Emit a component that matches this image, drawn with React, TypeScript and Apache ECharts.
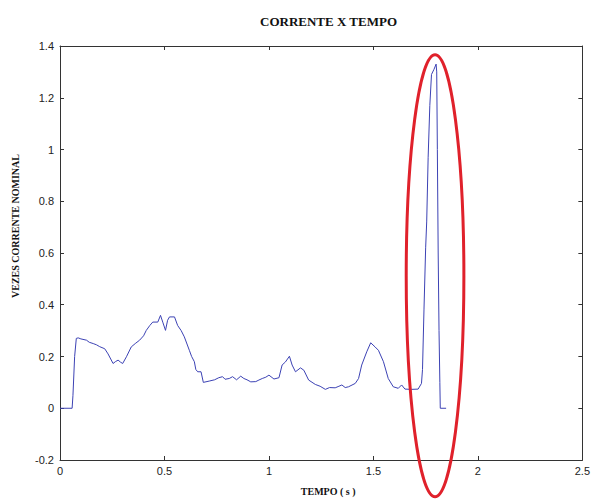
import React, { useEffect, useRef } from "react";
import * as echarts from "echarts";

const titleText = "CORRENTE X TEMPO";
const xName = "TEMPO ( s )";
const yName = "VEZES CORRENTE NOMINAL";

const time = [
  0, 0.058, 0.062, 0.07, 0.078, 0.087, 0.1, 0.127, 0.14, 0.159, 0.175, 0.19, 0.214, 0.23, 0.254, 0.265,
  0.278, 0.29, 0.3, 0.318, 0.341, 0.36, 0.381, 0.4, 0.413, 0.43, 0.444, 0.468, 0.481, 0.493, 0.505, 0.515,
  0.524, 0.548, 0.563, 0.58, 0.595, 0.619, 0.63, 0.643, 0.65, 0.659, 0.675, 0.686, 0.714, 0.74, 0.76, 0.778,
  0.79, 0.81, 0.826, 0.845, 0.865, 0.88, 0.895, 0.913, 0.937, 0.952, 0.968, 0.985, 1.0, 1.024, 1.048, 1.063,
  1.079, 1.098, 1.111, 1.127, 1.151, 1.167, 1.19, 1.222, 1.245, 1.27, 1.29, 1.317, 1.335, 1.349, 1.365, 1.381,
  1.413, 1.429, 1.444, 1.468, 1.487, 1.508, 1.524, 1.548, 1.571, 1.595, 1.619, 1.635, 1.651, 1.683, 1.714, 1.73,
  1.735, 1.742, 1.75, 1.755, 1.762, 1.77, 1.778, 1.79, 1.8, 1.803, 1.806, 1.81, 1.814, 1.818, 1.82, 1.848,
];

const current = [
  0, 0, 0.05, 0.2, 0.27, 0.272, 0.268, 0.263, 0.255, 0.25, 0.245, 0.238, 0.23, 0.21, 0.173, 0.18,
  0.186, 0.178, 0.173, 0.199, 0.237, 0.25, 0.263, 0.28, 0.301, 0.32, 0.333, 0.333, 0.359, 0.33, 0.301, 0.34,
  0.353, 0.353, 0.32, 0.3, 0.276, 0.224, 0.2, 0.18, 0.15, 0.141, 0.141, 0.1, 0.105, 0.11, 0.118, 0.122,
  0.112, 0.115, 0.122, 0.11, 0.124, 0.115, 0.11, 0.102, 0.103, 0.109, 0.115, 0.12, 0.128, 0.113, 0.118, 0.167,
  0.179, 0.201, 0.167, 0.141, 0.156, 0.147, 0.109, 0.092, 0.085, 0.073, 0.08, 0.079, 0.085, 0.09, 0.08, 0.083,
  0.096, 0.115, 0.167, 0.218, 0.253, 0.237, 0.224, 0.18, 0.115, 0.083, 0.077, 0.09, 0.074, 0.073, 0.074, 0.096,
  0.15, 0.38, 0.62, 0.72, 0.97, 1.17, 1.29, 1.31, 1.33, 1.3, 1.0, 0.6, 0.3, 0.1, 0.0, 0.0,
];

// Highlight ellipse (data coordinates of centre and radii)
const highlightCenter = [1.795, 0.512];
const highlightRadius = [0.138, 0.854];

const axisColor = "#333";
const labelFont = { fontFamily: "Liberation Sans", fontSize: 11, color: "#222" };
const nameFont = { fontFamily: "Liberation Serif", fontSize: 10, fontWeight: "bold" as const, color: "#111" };

export default function App() {
  const ref = useRef<HTMLDivElement>(null);
  useEffect(() => {
    if (!ref.current) return;
    const chart = echarts.init(ref.current, null, { renderer: "svg" });
    const data = time.map((t, i) => [t, current[i]]);
    const baseAxis = {
      axisLine: { show: true, onZero: false, lineStyle: { color: axisColor, width: 1 } },
      axisTick: { show: true, inside: true, length: 4, lineStyle: { color: axisColor } },
      splitLine: { show: false },
    };
    chart.setOption({
      animation: false,
      backgroundColor: "#fff",
      title: {
        text: titleText,
        left: 255,
        top: 10,
        textStyle: { fontFamily: "Liberation Serif", fontSize: 13, fontWeight: "bold", color: "#111" },
      },
      grid: { left: 60, right: 8, top: 46, bottom: 39, show: false },
      xAxis: [
        {
          ...baseAxis,
          type: "value",
          min: 0,
          max: 2.5,
          interval: 0.5,
          position: "bottom",
          axisLabel: { ...labelFont, margin: 5 },
          name: xName,
          nameLocation: "middle",
          nameGap: 26,
          nameTextStyle: { ...nameFont, padding: [0, 0, 0, 14] },
        },
        {
          ...baseAxis,
          type: "value",
          min: 0,
          max: 2.5,
          interval: 0.5,
          position: "top",
          axisLabel: { show: false },
        },
      ],
      yAxis: [
        {
          ...baseAxis,
          type: "value",
          min: -0.2,
          max: 1.4,
          interval: 0.2,
          position: "left",
          axisLabel: { ...labelFont, margin: 6 },
          name: yName,
          nameLocation: "middle",
          nameGap: 40,
          nameTextStyle: { ...nameFont, padding: [0, 0, 0, 54] },
        },
        {
          ...baseAxis,
          type: "value",
          min: -0.2,
          max: 1.4,
          interval: 0.2,
          position: "right",
          axisLabel: { show: false },
        },
      ],
      series: [
        {
          type: "line",
          data,
          xAxisIndex: 0,
          yAxisIndex: 0,
          showSymbol: false,
          lineStyle: { color: "#3c42b4", width: 1 },
        },
      ],
    });
    const c = chart.convertToPixel({ gridIndex: 0 }, highlightCenter) as number[];
    const e = chart.convertToPixel({ gridIndex: 0 }, [
      highlightCenter[0] + highlightRadius[0],
      highlightCenter[1] + highlightRadius[1],
    ]) as number[];
    chart.setOption({
      graphic: [
        {
          type: "ellipse",
          shape: { cx: c[0], cy: c[1], rx: Math.abs(e[0] - c[0]), ry: Math.abs(c[1] - e[1]) },
          style: { fill: "none", stroke: "#e0212b", lineWidth: 3 },
          z: 100,
        },
      ],
    });
    return () => chart.dispose();
  }, []);
  return (
    <div
      ref={ref}
      style={{ position: "absolute", left: 0, top: 0, width: 593, height: 501, background: "#fff" }}
    />
  );
}
